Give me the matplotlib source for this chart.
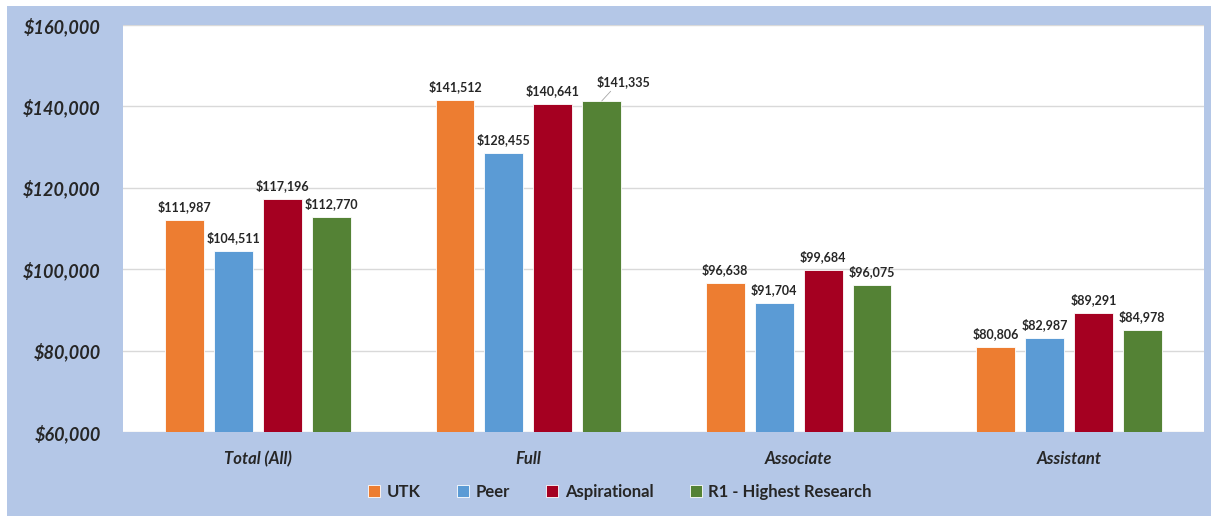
import numpy as np
import matplotlib
matplotlib.use('Agg')
import matplotlib.pyplot as plt
from matplotlib.patches import Rectangle
from matplotlib.ticker import FuncFormatter

# data
categories = ['Total (All)', 'Full', 'Associate', 'Assistant']
series_names = ['UTK', 'Peer', 'Aspirational', 'R1 - Highest Research']
utk = [111987, 141512, 96638, 80806]
peer = [104511, 128455, 91704, 82987]
aspirational = [117196, 140641, 99684, 89291]
r1 = [112770, 141335, 96075, 84978]
colors = ['#ED7D31', '#5B9BD5', '#A50021', '#548235']

plt.rcParams['font.family'] = ['Lato', 'DejaVu Sans']

fig = plt.figure(figsize=(12.11, 5.16), dpi=100, facecolor='white')
# light blue chart area with a thin white margin at left/top
fig.patches.append(Rectangle((7 / 1211, 0), 1 - 7 / 1211, 1 - 6 / 516,
                             transform=fig.transFigure, facecolor='#B4C7E7',
                             edgecolor='none', zorder=-5))

ax = fig.add_axes([123 / 1211, 84 / 516, 1081 / 1211, 407 / 516])
ax.set_facecolor('white')

x = np.arange(len(categories))
width = 0.144
step = 0.181
all_series = [utk, peer, aspirational, r1]

for i, (name, vals) in enumerate(zip(series_names, all_series)):
    pos = x + (i - 1.5) * step
    bars = ax.bar(pos, vals, width, color=colors[i], label=name,
                  edgecolor='white', linewidth=0.6, zorder=3)
    for j, (b, v) in enumerate(zip(bars, vals)):
        xc = b.get_x() + b.get_width() / 2
        if i == 3 and categories[j] == 'Full':
            # Excel moved this label aside to avoid overlap, with a leader line
            ax.annotate(f'${v:,}', (xc, v), xytext=(16, 9),
                        textcoords='offset points', ha='center', va='bottom',
                        fontsize=9, fontweight='bold', color='#262626',
                        zorder=4,
                        arrowprops=dict(arrowstyle='-', color='#A6A6A6',
                                        lw=0.6, shrinkA=0, shrinkB=0,
                                        relpos=(0.3, 0.0)))
        else:
            ax.annotate(f'${v:,}', (xc, v), xytext=(0, 5),
                        textcoords='offset points', ha='center', va='bottom',
                        fontsize=9, fontweight='bold', color='#262626',
                        zorder=4)

ax.set_ylim(60000, 160000)
ax.set_xlim(-0.5, 3.5)
ax.set_yticks(np.arange(60000, 160001, 20000))
ax.yaxis.set_major_formatter(FuncFormatter(lambda v, p: f'${v:,.0f}'))
ax.set_xticks(x)
ax.set_xticklabels(categories)
ax.grid(axis='y', color='#D9D9D9', linewidth=1, zorder=0)
ax.tick_params(axis='both', length=0)
ax.tick_params(axis='y', pad=16, labelsize=13)
ax.tick_params(axis='x', pad=14, labelsize=12)
for lab in ax.get_yticklabels() + ax.get_xticklabels():
    lab.set_fontweight('bold')
    lab.set_fontstyle('italic')
    lab.set_color('#262626')
for s in ax.spines.values():
    s.set_visible(False)

fig.legend(loc='center', bbox_to_anchor=(0.512, 24 / 516), ncol=4,
           frameon=False, handlelength=0.7, handleheight=0.7,
           handletextpad=0.4, columnspacing=2.2,
           prop={'weight': 'bold', 'size': 12})
for t in fig.legends[0].get_texts():
    t.set_color('#262626')

fig.savefig('out.png', dpi=100, facecolor=fig.get_facecolor())
